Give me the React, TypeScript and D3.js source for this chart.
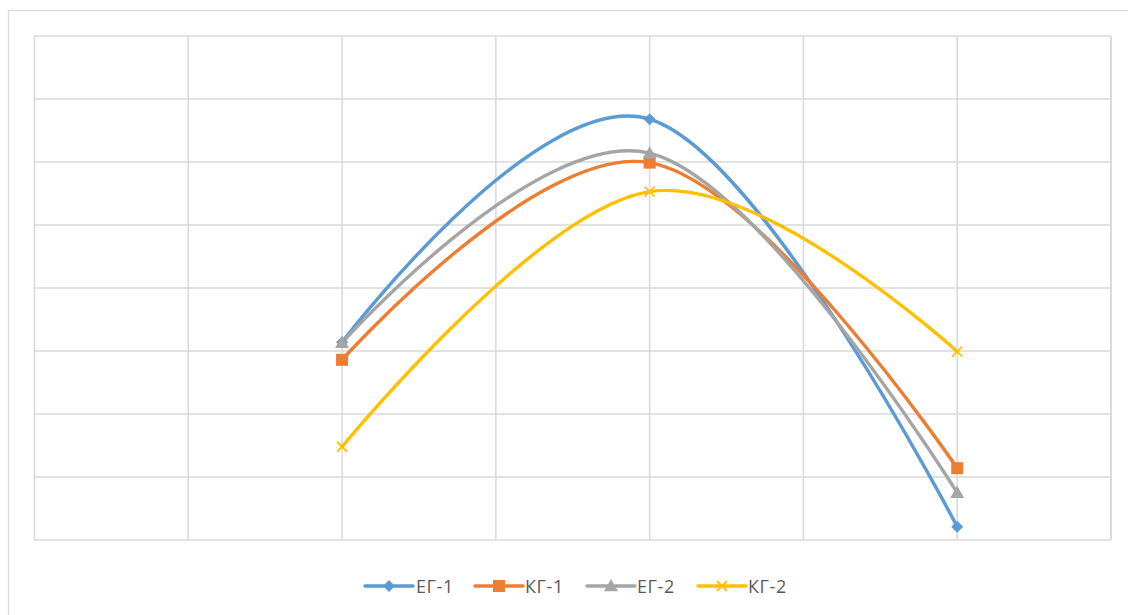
import React from "react";
import * as d3 from "d3";

const xCategories = [2, 4, 6];
const seriesNames = ["ЕГ-1", "КГ-1", "ЕГ-2", "КГ-2"];
const eg1 = [3.14, 6.68, 0.21];
const kg1 = [2.86, 5.99, 1.14];
const eg2 = [3.13, 6.14, 0.75];
const kg2 = [1.48, 5.53, 2.99];
const colors = ["#5B9BD5", "#ED7D31", "#A5A5A5", "#FFC000"];
const markers = ["diamond", "square", "triangle", "x"];
const xTicks = d3.range(0, 8);
const yTicks = d3.range(0, 9);

const W = 1128;
const H = 615;
const plot = { left: 34.5, top: 36, right: 1111, bottom: 540 };

function Marker({ type, x, y, color }: { type: string; x: number; y: number; color: string }) {
  if (type === "diamond") {
    const s = 6;
    return <path d={`M${x},${y - s}L${x + s},${y}L${x},${y + s}L${x - s},${y}Z`} fill={color} />;
  }
  if (type === "square") {
    const s = 6;
    return <rect x={x - s} y={y - s} width={2 * s} height={2 * s} fill={color} />;
  }
  if (type === "triangle") {
    const s = 7;
    return <path d={`M${x},${y - s}L${x + s},${y + s * 0.75}L${x - s},${y + s * 0.75}Z`} fill={color} />;
  }
  const s = 5;
  return (
    <path
      d={`M${x - s},${y - s}L${x + s},${y + s}M${x - s},${y + s}L${x + s},${y - s}`}
      stroke={color}
      strokeWidth={1.8}
    />
  );
}

export default function App() {
  const x = d3.scaleLinear().domain([0, 7]).range([plot.left, plot.right]);
  const y = d3.scaleLinear().domain([0, 8]).range([plot.bottom, plot.top]);
  const allSeries = [eg1, kg1, eg2, kg2];
  const line = d3
    .line<[number, number]>()
    .x((d) => x(d[0]))
    .y((d) => y(d[1]))
    .curve(d3.curveCardinal.tension(-0.1));

  const legendItems = [
    { lx: 365, tx: 416 },
    { lx: 475, tx: 525 },
    { lx: 587, tx: 637 },
    { lx: 698, tx: 748 },
  ];

  return (
    <svg
      width={W}
      height={H}
      style={{ position: "absolute", left: 0, top: 0 }}
      fontFamily="'Open Sans', 'Liberation Sans', sans-serif"
    >
      <rect x={0} y={0} width={W} height={H} fill="#fff" />
      <rect x={8.5} y={10.5} width={W + 10} height={H + 10} fill="#fff" stroke="#d9d9d9" strokeWidth={1.2} />
      <g stroke="#d9d9d9" strokeWidth={1.5}>
        {xTicks.map((t) => (
          <line key={"x" + t} x1={x(t)} x2={x(t)} y1={plot.top} y2={plot.bottom} />
        ))}
        <line x1={plot.right} x2={plot.right} y1={plot.top} y2={plot.bottom} />
        {yTicks.map((t) => (
          <line key={"y" + t} x1={plot.left} x2={plot.right} y1={y(t)} y2={y(t)} />
        ))}
      </g>
      {allSeries.map((vals, i) => {
        const pts = vals.map((v, j) => [xCategories[j], v] as [number, number]);
        return (
          <g key={i}>
            <path d={line(pts) || ""} fill="none" stroke={colors[i]} strokeWidth={3.4} strokeLinecap="round" />
          </g>
        );
      })}
      {allSeries.map((vals, i) => (
        <g key={"m" + i}>
          {vals.map((v, j) => (
            <Marker key={j} type={markers[i]} x={x(xCategories[j])} y={y(v)} color={colors[i]} />
          ))}
        </g>
      ))}
      {seriesNames.map((name, i) => {
        const it = legendItems[i];
        return (
          <g key={"l" + i}>
            <line x1={it.lx} x2={it.lx + 48} y1={586} y2={586} stroke={colors[i]} strokeWidth={3.4} strokeLinecap="round" />
            <Marker type={markers[i]} x={it.lx + 24} y={586} color={colors[i]} />
            <text x={it.tx} y={587} dy="0.35em" fontSize={18} letterSpacing={0.6} fill="#595959">
              {name}
            </text>
          </g>
        );
      })}
    </svg>
  );
}
